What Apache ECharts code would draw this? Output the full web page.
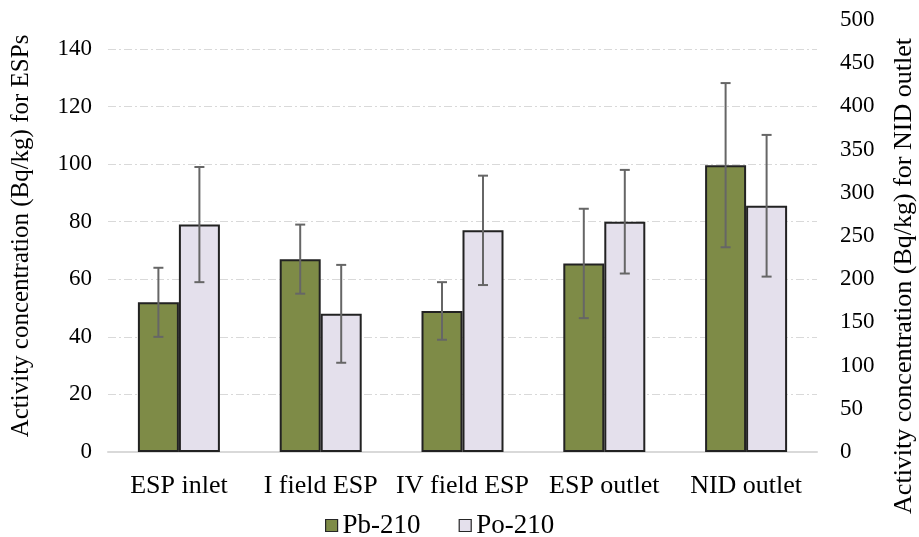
<!DOCTYPE html>
<html>
<head>
<meta charset="utf-8">
<script src="https://cdn.jsdelivr.net/npm/echarts@6/dist/echarts.min.js"></script>
<style>
  html, body { margin: 0; padding: 0; background: #fff; }
  #chart { width: 919px; height: 537px; }
</style>
</head>
<body>
<div id="chart"></div>
<script>
// Sampling locations
const categories = ['ESP inlet', 'I field ESP', 'IV field ESP', 'ESP outlet', 'NID outlet'];

// ESP samples (left axis), NID outlet value kept on the right axis
const pb210 = [52, 67, 49, 65.5, null];
const po210 = [79, 48, 77, 80, null];
const pb210Err = [12, 12, 10, 19, null];
const po210Err = [20, 17, 19, 18, null];

// NID outlet (right axis)
const pb210Nid = [null, null, null, null, 332];
const po210Nid = [null, null, null, null, 285];
const pb210NidErr = [null, null, null, null, 95];
const po210NidErr = [null, null, null, null, 82];

// Axis ticks
const leftTicks = { min: 0, max: 140, interval: 20 };
const rightTicks = { min: 0, max: 500, interval: 50 };

// Axis titles
const leftTitle = 'Activity concentration (Bq/kg) for ESPs';
const rightTitle = 'Activity concentration (Bq/kg) for NID outlet';

const FONT = '"Liberation Serif", "Times New Roman", serif';
const PB_COLOR = '#7e8b47';
const PO_COLOR = '#e4e0ec';
const BAR_W = 41;

const toBarData = arr => arr.map(v => (v == null ? '-' : v));
const toErrData = (vals, errs) => vals
  .map((v, i) => (v == null ? null : [i, v - errs[i], v + errs[i]]))
  .filter(d => d !== null);

function errorBar(offset) {
  return function (params, api) {
    const x = api.value(0);
    const lo = api.coord([x, api.value(1)]);
    const hi = api.coord([x, api.value(2)]);
    const cx = lo[0] + offset;
    const cap = 5;
    const style = { stroke: '#666666', lineWidth: 2 };
    return {
      type: 'group',
      children: [
        { type: 'line', shape: { x1: cx, y1: hi[1], x2: cx, y2: lo[1] }, style },
        { type: 'line', shape: { x1: cx - cap, y1: hi[1], x2: cx + cap, y2: hi[1] }, style },
        { type: 'line', shape: { x1: cx - cap, y1: lo[1], x2: cx + cap, y2: lo[1] }, style }
      ]
    };
  };
}

const barStyle = color => ({ color, borderColor: '#222222', borderWidth: 2 });

const chart = echarts.init(document.getElementById('chart'));
chart.setOption({
  animation: false,
  textStyle: { fontFamily: FONT },
  grid: [
    { left: 108, right: 102, top: 49, bottom: 85 },
    { left: 108, right: 102, top: 20, bottom: 85 }
  ],
  graphic: [
    {
      type: 'text', x: 21, y: 236, rotation: Math.PI / 2,
      style: {
        text: leftTitle, font: '25px ' + FONT, fill: '#000',
        align: 'center', verticalAlign: 'middle'
      }
    },
    {
      type: 'text', x: 904, y: 276, rotation: Math.PI / 2,
      style: {
        text: rightTitle, font: '26px ' + FONT, fill: '#000',
        align: 'center', verticalAlign: 'middle'
      }
    }
  ],
  legend: {
    top: 507,
    left: 320,
    icon: 'rect',
    itemWidth: 12,
    itemHeight: 12,
    itemGap: 38,
    textStyle: { fontFamily: FONT, fontSize: 27, color: '#000' },
    data: [
      { name: 'Pb-210', itemStyle: { color: PB_COLOR, borderColor: '#262626', borderWidth: 1.2 } },
      { name: 'Po-210', itemStyle: { color: PO_COLOR, borderColor: '#262626', borderWidth: 1.2 } }
    ]
  },
  xAxis: [
    {
      type: 'category', gridIndex: 0, data: categories,
      axisLine: { lineStyle: { color: '#d9d9d9', width: 2 } },
      axisTick: { show: false },
      axisLabel: { fontFamily: FONT, fontSize: 26, color: '#000', margin: 21, interval: 0 }
    },
    {
      type: 'category', gridIndex: 1, data: categories, show: false
    }
  ],
  yAxis: [
    {
      type: 'value', gridIndex: 0, position: 'left',
      min: leftTicks.min, max: leftTicks.max, interval: leftTicks.interval,
      axisLine: { show: false }, axisTick: { show: false },
      axisLabel: { fontFamily: FONT, fontSize: 23, color: '#000', margin: 16 },
      splitLine: { lineStyle: { color: '#d9d9d9', width: 1, type: [8, 3, 2, 3] } }
    },
    {
      type: 'value', gridIndex: 1, position: 'right',
      min: rightTicks.min, max: rightTicks.max, interval: rightTicks.interval,
      axisLine: { show: false }, axisTick: { show: false },
      axisLabel: { fontFamily: FONT, fontSize: 23, color: '#000', margin: 23 },
      splitLine: { show: false }
    }
  ],
  series: [
    {
      name: 'Pb-210', type: 'bar', xAxisIndex: 0, yAxisIndex: 0,
      barWidth: BAR_W, barGap: '0%', data: toBarData(pb210), itemStyle: barStyle(PB_COLOR)
    },
    {
      name: 'Po-210', type: 'bar', xAxisIndex: 0, yAxisIndex: 0,
      barWidth: BAR_W, barGap: '0%', data: toBarData(po210), itemStyle: barStyle(PO_COLOR)
    },
    {
      name: 'Pb-210', type: 'bar', xAxisIndex: 1, yAxisIndex: 1,
      barWidth: BAR_W, barGap: '0%', data: toBarData(pb210Nid), itemStyle: barStyle(PB_COLOR)
    },
    {
      name: 'Po-210', type: 'bar', xAxisIndex: 1, yAxisIndex: 1,
      barWidth: BAR_W, barGap: '0%', data: toBarData(po210Nid), itemStyle: barStyle(PO_COLOR)
    },
    {
      type: 'custom', xAxisIndex: 0, yAxisIndex: 0, z: 10,
      renderItem: errorBar(-BAR_W / 2), data: toErrData(pb210, pb210Err)
    },
    {
      type: 'custom', xAxisIndex: 0, yAxisIndex: 0, z: 10,
      renderItem: errorBar(BAR_W / 2), data: toErrData(po210, po210Err)
    },
    {
      type: 'custom', xAxisIndex: 1, yAxisIndex: 1, z: 10,
      renderItem: errorBar(-BAR_W / 2), data: toErrData(pb210Nid, pb210NidErr)
    },
    {
      type: 'custom', xAxisIndex: 1, yAxisIndex: 1, z: 10,
      renderItem: errorBar(BAR_W / 2), data: toErrData(po210Nid, po210NidErr)
    }
  ]
});
</script>
</body>
</html>
